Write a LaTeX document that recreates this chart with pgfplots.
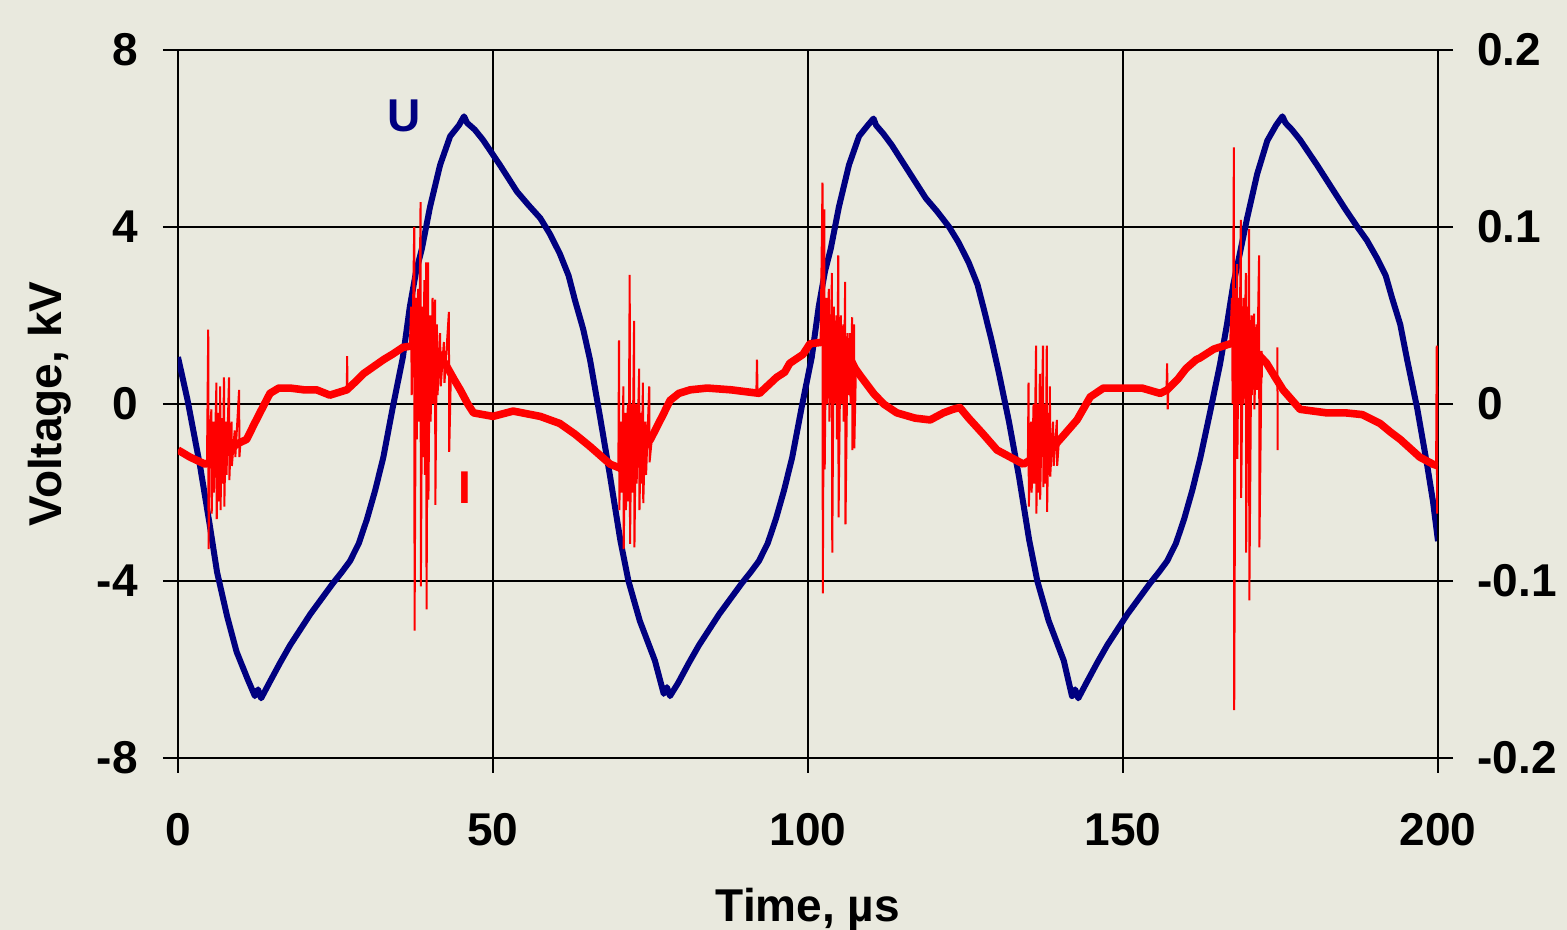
\documentclass[border=0pt]{standalone}
\usepackage{fontspec}
\setmainfont{Liberation Sans}
\usepackage{pgfplots}
\pgfplotsset{compat=1.18}
\definecolor{bgpaper}{RGB}{233,233,222}
\definecolor{unavy}{RGB}{0,0,128}
\definecolor{ired}{RGB}{255,0,0}

\newcommand{\bigbf}{\fontsize{23}{23}\selectfont\bfseries}

\begin{document}
\begin{tikzpicture}
\fill[bgpaper] (-89pt,-86pt) rectangle (694.5pt,379pt);
\useasboundingbox (-89pt,-86pt) rectangle (694.5pt,379pt);

\pgfplotsset{
  common/.style={
    width=630pt, height=354pt, scale only axis,
    at={(0pt,0pt)}, anchor=south west,
    xmin=0, xmax=200,
    tick align=outside, major tick length=7.5pt,
    tick style={black, line width=1pt},
    axis line style={black, line width=1pt},
    ticklabel style={font=\bigbf, inner sep=0pt},
  },
}

% voltage U, kV (left axis)
\begin{axis}[common,
  ymin=-8, ymax=8,
  xtick={0,50,100,150,200}, xticklabels={0,50,100,150,200},
  ytick={-8,-4,0,4,8}, yticklabels={-8,-4,0,4,8},
  xtick pos=bottom, ytick pos=left,
  grid=major, grid style={black, line width=1pt},
  xticklabel style={anchor=north, yshift=-20pt},
  yticklabel style={anchor=east, xshift=-12.5pt},
  xlabel={Time, µs}, ylabel={Voltage, kV},
  label style={font=\bigbf},
  xlabel style={at={(axis description cs:0.5,-0.2316)}, anchor=base},
  ylabel style={at={(axis description cs:-0.1016,0.5)}, anchor=center},
]
\addplot[unavy, line width=3pt, line join=round] coordinates {
  (0,1.06) (1.5,0.1) (3.5,-1.4) (5,-2.7) (6.2,-3.8) (7.8,-4.8) (9.3,-5.6)
  (11,-6.2) (12.2,-6.6) (12.7,-6.45) (13.2,-6.65) (14.5,-6.3) (16.2,-5.85) (17.8,-5.45) (19.4,-5.1)
  (21,-4.75) (22.8,-4.4) (24.6,-4.05) (26,-3.8) (27.3,-3.55) (28.7,-3.15)
  (30,-2.6) (31.3,-1.95) (32.6,-1.2) (34.1,-0.07) (35.7,1.06) (36.8,2.2)
  (37.8,3.0) (38.7,3.5) (40,4.45) (41.6,5.4) (43.2,6.05) (44.6,6.3)
  (45.4,6.5) (45.9,6.35) (47.1,6.2) (48.4,5.97) (51.1,5.4) (53.8,4.8) (55.6,4.5)
  (57.5,4.2) (59,3.85) (60.6,3.4) (62,2.9) (63,2.35) (64.3,1.7) (65.4,1.0)
  (67,-0.3) (68.6,-1.65) (70.2,-3.07) (71.5,-4.0) (73.3,-4.9) (75.7,-5.8)
  (77.1,-6.55) (77.6,-6.4) (78.1,-6.6) (79.4,-6.3) (81.1,-5.85) (82.7,-5.45) (84.3,-5.1) (85.9,-4.75)
  (87.7,-4.4) (89.5,-4.05) (90.9,-3.8) (92.2,-3.55) (93.6,-3.15) (94.9,-2.6)
  (96.2,-1.95) (97.5,-1.2) (99.0,-0.07) (100.6,1.06) (101.7,2.2) (102.7,3.0)
  (103.6,3.5) (104.9,4.45) (106.5,5.4) (108.1,6.05) (109.5,6.3) (110.4,6.45)
  (110.8,6.3) (112.0,6.1) (113.3,5.85) (116.0,5.25) (118.7,4.65) (120.5,4.35) (122.4,4.0)
  (123.9,3.65) (125.5,3.2) (126.9,2.7) (127.9,2.15) (129.2,1.4) (130.3,0.7)
  (131.9,-0.4) (133.5,-1.65) (135.1,-3.07) (136.4,-4.0) (138.2,-4.9) (140.6,-5.8)
  (141.9,-6.6) (142.4,-6.45) (142.9,-6.65) (144.2,-6.3) (145.9,-5.85) (147.5,-5.45) (149.1,-5.1) (150.7,-4.75)
  (152.5,-4.4) (154.3,-4.05) (155.7,-3.8) (157.0,-3.55) (158.4,-3.15) (159.7,-2.6)
  (161.0,-1.95) (162.3,-1.2) (163.8,-0.2) (165.4,0.9) (166.5,1.8) (167.5,2.7)
  (168.4,3.3) (169.7,4.2) (171.3,5.2) (172.9,5.95) (174.3,6.3) (175.3,6.5)
  (175.8,6.35) (176.8,6.2) (178.1,5.97) (180.8,5.4) (183.5,4.8) (185.3,4.4) (187.2,4.0)
  (188.7,3.7) (190.3,3.3) (191.7,2.9) (192.7,2.4) (194.0,1.8) (195.1,1.0)
  (196.7,-0.1) (198.3,-1.4) (199.2,-2.2) (200,-3.1)
};
\node[text=unavy, font=\bigbf] at (axis cs:35.9,6.5) {U};
\node[text=ired, font=\bigbf] at (axis cs:45.6,-1.9) {I};
\end{axis}

% current I (right axis)
\begin{axis}[common,
  ymin=-0.2, ymax=0.2,
  axis x line=none, axis y line*=right,
  ytick={-0.2,-0.1,0,0.1,0.2}, yticklabels={-0.2,-0.1,0,0.1,0.2},
  yticklabel style={anchor=west, xshift=12pt},
  unbounded coords=jump,
]
% slow part of the current
\addplot[ired, line width=3.8pt, line join=round] coordinates {
  (0,-0.026) (1.9,-0.030) (4.3,-0.034) (5.5,-0.032) (7.5,-0.027) (9.7,-0.022)
  (10.9,-0.020) (12,-0.012) (13,-0.005) (14.6,0.006) (16,0.009) (17.8,0.009)
  (20,0.008) (22,0.008) (24.1,0.005) (26.8,0.008) (28,0.012) (29.4,0.017)
  (31,0.021) (32.6,0.025) (34,0.028) (35.7,0.032) (37.5,0.033) (39.5,0.032)
  (41.5,0.028) (42.7,0.021) (43.8,0.014) (44.8,0.008) (46,0.000) (46.9,-0.005)
  (50,-0.007) (53.2,-0.004) (57.5,-0.007) (60.6,-0.011) (63,-0.017) (65.4,-0.024)
  (67,-0.029) (68.6,-0.034) (70,-0.036) (72,-0.028) (73.8,-0.025) (75,-0.020)
  (76,-0.013) (77,-0.006) (78.1,0.002) (79.5,0.006) (81.3,0.008) (84,0.009)
  (87.8,0.008) (90,0.007) (92.3,0.006) (93.5,0.010) (95,0.015) (96.3,0.018)
  (97.1,0.023) (99.2,0.028) (100.3,0.034) (102.5,0.035) (104.5,0.033) (106.5,0.027)
  (107.5,0.020) (108.3,0.016) (110.4,0.006) (112,0.000) (114.1,-0.005) (117,-0.008)
  (119.4,-0.009) (121.5,-0.005) (123,-0.003) (124.1,-0.002) (125.5,-0.008)
  (127.8,-0.017) (130,-0.026) (132.1,-0.030) (134.2,-0.034) (136,-0.030)
  (138.4,-0.025) (139.5,-0.022) (140.5,-0.018) (142.7,-0.009) (144.8,0.004)
  (146.9,0.009) (150,0.009) (153,0.009) (155.9,0.006) (157,0.008) (158.7,0.014)
  (160,0.020) (161.6,0.025) (162.2,0.026) (164.4,0.031) (167,0.034) (168.5,0.035)
  (170,0.032) (171.5,0.028) (172.8,0.023) (174,0.016) (175.4,0.008) (178.1,-0.003)
  (182.3,-0.005) (185.3,-0.005) (188,-0.006) (190.8,-0.011) (192.5,-0.016)
  (194,-0.020) (197.1,-0.030) (199.2,-0.034) (200,-0.035)
};
% discharge spikes
\addplot[ired, line width=1pt] coordinates {
  (4.6,-0.034) (4.8,0.042) (4.85,-0.082) (5.0,-0.02) (5.3,-0.003) (5.35,-0.062)
  (5.6,-0.01) (5.7,-0.05) (6.1,0.012) (6.15,-0.065) (6.4,-0.005) (6.5,-0.055)
  (6.7,0.010) (6.75,-0.060) (7.0,-0.008) (7.1,-0.045) (7.3,0.015) (7.35,-0.058)
  (7.6,-0.01) (7.7,-0.04) (8.1,0.015) (8.15,-0.043) (8.5,-0.01) (8.55,-0.035)
  (9.0,-0.015) (9.1,-0.03) (9.7,0.008) (9.75,-0.03) (9.9,-0.022)
  (10,nan)
  (26.8,0.008) (26.85,0.027) (26.9,0.008)
  (27,nan)
  (36.8,0.032) (37.0,0.055) (37.1,0.005) (37.5,0.100) (37.55,-0.128) (37.8,0.06)
  (37.9,-0.02) (38.1,0.065) (38.2,-0.01) (38.5,0.114) (38.55,-0.103) (38.8,0.055)
  (38.9,-0.03) (39.1,0.07) (39.2,-0.04) (39.4,0.080) (39.45,-0.116) (39.7,0.080)
  (39.75,-0.054) (40.0,0.05) (40.1,-0.01) (40.4,0.06) (40.5,0.0) (40.8,0.059)
  (40.85,-0.057) (41.1,0.045) (41.2,0.005) (41.6,0.04) (41.7,0.01) (42.2,0.035)
  (42.3,0.012) (43.0,0.052) (43.05,-0.027) (43.3,0.015)
  (44,nan)
  (69.9,-0.036) (70.0,0.036) (70.05,-0.060) (70.3,-0.01) (70.4,-0.05) (70.7,0.010)
  (70.75,-0.082) (71.0,-0.005) (71.1,-0.06) (71.4,0.0) (71.5,-0.055) (71.7,0.073)
  (71.75,-0.079) (72.0,0.0) (72.1,-0.05) (72.4,0.047) (72.45,-0.081) (72.7,0.0)
  (72.8,-0.045) (73.2,0.020) (73.25,-0.060) (73.5,-0.005) (73.55,-0.045)
  (73.8,0.012) (73.85,-0.056) (74.2,-0.01) (74.3,-0.04) (74.8,0.010) (74.85,-0.033)
  (75.2,-0.02)
  (76,nan)
  (91.8,0.006) (91.9,0.025) (92.0,0.006)
  (92.1,nan)
  (102.0,0.034) (102.3,0.125) (102.35,-0.107) (102.6,0.110) (102.65,-0.037)
  (102.9,0.06) (103.0,0.0) (103.3,0.065) (103.4,-0.01) (103.8,0.074) (103.85,-0.084)
  (104.1,0.055) (104.2,0.0) (104.5,0.05) (104.6,-0.02) (104.8,0.084) (104.85,-0.064)
  (105.2,0.05) (105.3,0.0) (105.6,0.045) (105.65,-0.01) (105.9,0.069) (105.95,-0.068)
  (106.3,0.04) (106.4,0.005) (106.7,0.04) (106.75,0.0) (107.0,0.049) (107.05,-0.026)
  (107.3,0.045) (107.35,-0.025) (107.6,0.02)
  (108,nan)
  (134.9,-0.034) (135.0,0.012) (135.05,-0.058) (135.4,-0.01) (135.5,-0.05)
  (135.8,0.0) (135.9,-0.045) (136.2,0.033) (136.25,-0.062) (136.5,0.0) (136.6,-0.05)
  (136.8,0.017) (136.85,-0.054) (137.3,0.033) (137.35,-0.047) (137.6,0.0)
  (137.7,-0.045) (137.9,0.033) (137.95,-0.061) (138.2,-0.005) (138.25,-0.04)
  (138.4,0.010) (138.45,-0.041) (138.9,-0.01) (139.0,-0.035) (139.5,-0.009)
  (139.55,-0.035) (139.8,-0.022)
  (140,nan)
  (156.9,0.006) (157.0,0.023) (157.1,-0.003) (157.2,0.008)
  (157.3,nan)
  (167.0,0.034) (167.3,0.06) (167.4,0.0) (167.6,0.145) (167.65,-0.173) (167.9,0.065)
  (167.95,0.0) (168.1,0.079) (168.15,-0.031) (168.4,0.06) (168.45,0.0) (168.7,0.104)
  (168.75,-0.053) (169.1,0.06) (169.15,0.0) (169.5,0.074) (169.55,-0.084)
  (169.8,0.055) (169.85,0.005) (170.0,0.099) (170.05,-0.111) (170.4,0.05)
  (170.45,0.005) (170.8,0.051) (170.85,-0.003) (171.2,0.045) (171.25,0.008)
  (171.6,0.084) (171.65,-0.081) (172.0,0.03) (172.05,0.015)
  (173,nan)
  (174.5,0.032) (174.55,-0.026)
  (175,nan)
  (199.7,-0.034) (199.8,0.033) (199.85,-0.062) (199.95,0.01) (200,-0.04)
};
\end{axis}
\end{tikzpicture}
\end{document}
